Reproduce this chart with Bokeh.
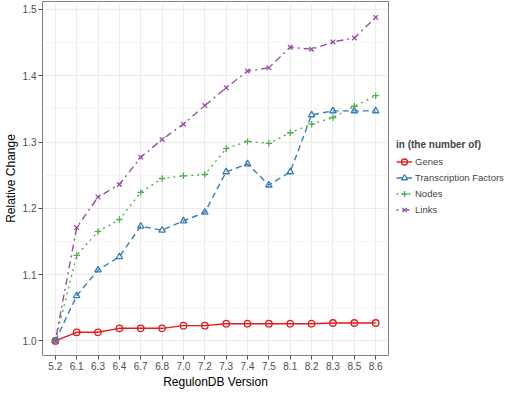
from bokeh.plotting import figure
from bokeh.models import FactorRange, Range1d, FixedTicker, Legend, LegendItem
from bokeh.embed import file_html
from bokeh.resources import INLINE

versions = ["5.2", "6.1", "6.3", "6.4", "6.7", "6.8", "7.0", "7.2", "7.3", "7.4",
            "7.5", "8.1", "8.2", "8.3", "8.5", "8.6"]
genes = [1.000, 1.013, 1.013, 1.019, 1.019, 1.019, 1.023, 1.023, 1.026, 1.026,
         1.026, 1.026, 1.026, 1.027, 1.027, 1.027]
tfs = [1.000, 1.068, 1.107, 1.127, 1.173, 1.167, 1.181, 1.194, 1.255, 1.267,
       1.235, 1.255, 1.341, 1.347, 1.347, 1.347]
nodes = [1.000, 1.129, 1.165, 1.183, 1.224, 1.245, 1.249, 1.251, 1.290, 1.301,
         1.298, 1.314, 1.327, 1.337, 1.354, 1.370]
links = [1.000, 1.171, 1.217, 1.236, 1.277, 1.304, 1.327, 1.355, 1.382, 1.407,
         1.412, 1.443, 1.440, 1.451, 1.457, 1.488]
series_names = ["Genes", "Transcription Factors", "Nodes", "Links"]
y_ticks = [1.0, 1.1, 1.2, 1.3, 1.4, 1.5]
y_minor = [1.05, 1.15, 1.25, 1.35, 1.45]

colors = ["#E41A1C", "#377EB8", "#4DAF4A", "#984EA3"]
dashes = ["solid", "6 4", "2 4", "2 4 7 4"]
markers = ["circle", "triangle", "cross", "x"]

p = figure(x_range=FactorRange(factors=versions, range_padding=0.0125,
                               range_padding_units="percent"),
           y_range=Range1d(0.978, 1.512),
           frame_width=346, frame_height=354,
           min_border_left=0, min_border_right=0, min_border_top=1,
           min_border_bottom=0,
           output_backend="svg", toolbar_location=None)

p.background_fill_color = "white"
p.border_fill_color = "white"
p.outline_line_color = "#7f7f7f"
p.outline_line_width = 1

p.xgrid.grid_line_color = "#ebebeb"
p.ygrid.grid_line_color = "#ebebeb"
p.ygrid.minor_grid_line_color = "#f5f5f5"
p.yaxis.ticker = FixedTicker(ticks=y_ticks, minor_ticks=y_minor)
p.yaxis.major_label_overrides = {v: f"{v:.1f}" for v in y_ticks}

for ax in (p.xaxis[0], p.yaxis[0]):
    ax.axis_line_color = None
    ax.major_tick_line_color = "#4d4d4d"
    ax.major_tick_out = 4
    ax.major_tick_in = 0
    ax.minor_tick_line_color = None
    ax.major_label_text_font = "Liberation Sans"
    ax.major_label_text_font_size = "10px"
    ax.major_label_text_color = "#4d4d4d"
    ax.axis_label_text_font = "Liberation Sans"
    ax.axis_label_text_font_size = "12px"
    ax.axis_label_text_font_style = "normal"
    ax.axis_label_text_color = "black"
    ax.major_label_standoff = 2
    ax.axis_label_standoff = 2

p.xaxis.axis_label = "RegulonDB Version"
p.yaxis.axis_label = "Relative Change"

items = []
for name, vals, c, d, m in zip(series_names, [genes, tfs, nodes, links], colors, dashes, markers):
    r1 = p.line(versions, vals, line_color=c, line_width=1.4, line_dash=d)
    r2 = p.scatter(versions, vals, marker=m, size=6.5, line_color=c, fill_color=None,
                   line_width=1.3)
    items.append(LegendItem(label=name, renderers=[r1, r2]))

legend = Legend(items=items, location="center_left", title="in (the number of)",
                title_text_font="Liberation Sans", title_text_font_style="bold",
                title_text_font_size="10px", label_text_font="Liberation Sans",
                label_text_font_size="9.5px", glyph_width=16, glyph_height=15,
                label_height=15, spacing=1, padding=2, margin=8,
                border_line_color=None, background_fill_alpha=0,
                label_standoff=3, title_standoff=4)
p.add_layout(legend, "right")

open("out.html", "w").write(file_html(p, INLINE))
